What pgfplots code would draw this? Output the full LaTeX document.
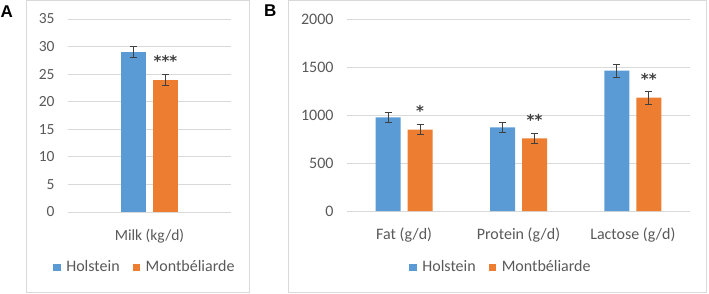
\documentclass[border=0pt]{standalone}
\usepackage{pgfplots}
\pgfplotsset{compat=1.18}
\usepackage{fontspec}
\setmainfont{Carlito}
\newfontfamily\labelfont{Liberation Sans}
\newfontfamily\starfont{DejaVu Sans}
\definecolor{hblue}{HTML}{5B9BD5}
\definecolor{morange}{HTML}{ED7D31}
\definecolor{gridc}{HTML}{D9D9D9}
\definecolor{txt}{HTML}{595959}
\definecolor{errc}{HTML}{404040}

\tikzset{stars/.style={text=errc, font=\starfont\bfseries\fontsize{15}{18}\selectfont, anchor=base, xshift=16pt, inner sep=0pt}}

\pgfplotsset{
  mystyle/.style={
    scale only axis, anchor=south west,
    ybar=7pt, bar width=25pt,
    axis line style={draw=none},
    tick style={draw=none},
    ymajorgrids, grid style={gridc, line width=1pt},
    ymin=0,
    enlarge x limits=false,
    /pgf/number format/assume math mode=true,
    /pgf/number format/1000 sep={},
    ticklabel style={text=txt},
    yticklabel style={xshift=-10pt},
    xticklabel style={yshift=-9pt},
    legend style={draw=none, fill=none, text=txt, legend columns=2, font=\fontsize{16}{19}\selectfont,
      /tikz/every even column/.append style={column sep=11pt}},
    legend image code/.code={\fill[##1, draw=none] (0pt,-4pt) rectangle (7.5pt,3.5pt);},
    error bars/y dir=both, error bars/y explicit,
    error bars/error bar style={errc, line width=1pt},
    error bars/error mark options={rotate=90, errc, mark size=3.5pt, line width=1pt},
  },
  hbar/.style={fill=hblue, draw=none},
  mbar/.style={fill=morange, draw=none},
}

\begin{document}
\begin{tikzpicture}
\useasboundingbox (0,0) rectangle (709pt,293pt);
\draw[gridc, line width=1pt] (26pt,1pt) rectangle (249pt,292.5pt);
\draw[gridc, line width=1pt] (288pt,1pt) rectangle (706pt,292.5pt);
\node[anchor=north west, inner sep=0, font=\labelfont\bfseries\fontsize{17}{17}\selectfont] at (0.5pt,287pt) {A};
\node[anchor=north west, inner sep=0, font=\labelfont\bfseries\fontsize{17}{17}\selectfont] at (264pt,288pt) {B};

\begin{axis}[mystyle, at={(68pt,81pt)}, width=163pt, height=193pt,
  font=\fontsize{15.5}{18}\selectfont,
  xmin=-0.5, xmax=0.5, ymax=35, ytick={0,5,...,35},
  xtick={0}, xticklabels={Milk (kg/d)},
  legend style={at={(0.472,-0.285)}, anchor=center},
]
\addplot[hbar] coordinates {(0,29) +- (0,1)};
\addplot[mbar] coordinates {(0,24) +- (0,1)};
\legend{\hspace{3.5pt}Holstein, \hspace{3.5pt}Montbéliarde}
\node[stars] at (axis cs:0,26.3) {***};
\end{axis}

\begin{axis}[mystyle, at={(347pt,82pt)}, width=343pt, height=192pt,
  font=\fontsize{16}{19}\selectfont,
  xmin=-0.5, xmax=2.5, ymax=2000, ytick={0,500,...,2000},
  xtick={0,1,2}, xticklabels={Fat (g/d), Protein (g/d), Lactose (g/d)},
  legend style={at={(0.449,-0.292)}, anchor=center},
]
\addplot[hbar] coordinates {(0,975) +- (0,52) (1,870) +- (0,50) (2,1462) +- (0,68)};
\addplot[mbar] coordinates {(0,847) +- (0,53) (1,757) +- (0,52) (2,1180) +- (0,68)};
\legend{\hspace{3.5pt}Holstein, \hspace{3.5pt}Montbéliarde}
\node[stars] at (axis cs:0,983) {*};
\node[stars] at (axis cs:1,890) {**};
\node[stars] at (axis cs:2,1319) {**};
\end{axis}
\end{tikzpicture}
\end{document}
